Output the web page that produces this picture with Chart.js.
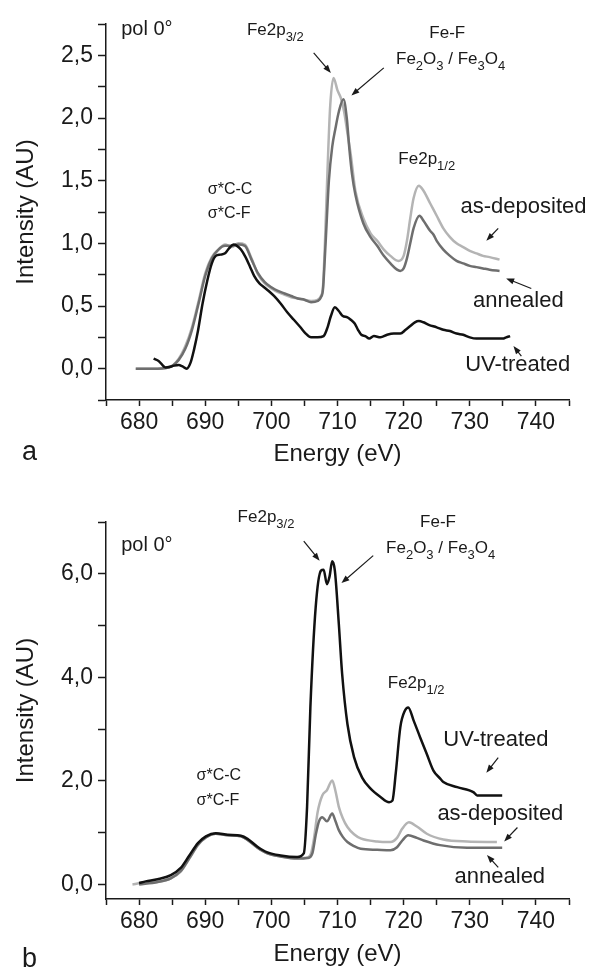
<!DOCTYPE html>
<html>
<head>
<meta charset="utf-8">
<script src="https://cdn.jsdelivr.net/npm/chart.js@4"></script>
<style>
body{margin:0;background:#fff;width:593px;height:973px;position:relative;overflow:hidden}
.panel{position:absolute;left:0;width:593px}
</style>
</head>
<body>
<div class="panel" style="top:0;height:486px"><canvas id="chartA" width="593" height="486"></canvas></div>
<div class="panel" style="top:486px;height:487px"><canvas id="chartB" width="593" height="487"></canvas></div>
<script>
// panel a - pol 0 spectra (energy in eV, intensity in AU)
let energyA_dep = [679.5, 682, 684.5, 686, 687, 688, 689, 690, 691, 692, 693, 694, 695, 696, 697, 698, 699, 700, 701, 702, 703, 704, 705, 706, 707, 707.5, 707.8, 708.1, 708.5, 708.9, 709.4, 710, 710.5, 711, 711.5, 712, 712.7, 713.9, 715, 716, 717, 718, 719.2, 720, 720.5, 721, 721.5, 722.3, 723, 724, 725, 726, 727, 728, 729, 730, 731, 732, 733, 734.5];
let intensA_dep = [0.0, 0.0, 0.01, 0.08, 0.18, 0.33, 0.54, 0.76, 0.89, 0.95, 0.99, 0.97, 1.0, 0.99, 0.88, 0.75, 0.68, 0.64, 0.61, 0.59, 0.57, 0.56, 0.55, 0.54, 0.55, 0.58, 0.65, 1.0, 1.6, 2.1, 2.32, 2.22, 2.16, 2.05, 1.88, 1.71, 1.42, 1.20, 1.08, 1.02, 0.95, 0.90, 0.86, 0.90, 1.02, 1.20, 1.36, 1.46, 1.42, 1.32, 1.22, 1.12, 1.05, 1.00, 0.97, 0.94, 0.92, 0.90, 0.89, 0.87];

let energyA_ann = [679.5, 682, 684.5, 686, 687, 688, 689, 690, 691, 692, 693, 694, 695, 696, 697, 698, 699, 700, 701, 702, 703, 704, 705, 706, 707, 707.5, 707.8, 708.2, 708.7, 709.2, 709.7, 710.2, 710.9, 711.4, 711.8, 712.2, 712.7, 713.9, 715, 716, 717, 718, 719, 719.5, 720, 720.5, 721, 721.5, 722.4, 723, 724, 724.5, 725, 726, 727, 728, 729, 730, 731, 732, 733, 734.5];
let intensA_ann = [0.0, 0.0, 0.01, 0.07, 0.16, 0.31, 0.52, 0.74, 0.88, 0.95, 0.98, 0.98, 0.99, 0.98, 0.87, 0.76, 0.69, 0.65, 0.62, 0.60, 0.58, 0.56, 0.55, 0.53, 0.54, 0.57, 0.63, 1.0, 1.5, 1.77, 1.92, 2.05, 2.15, 2.0, 1.75, 1.55, 1.39, 1.16, 1.05, 0.98, 0.90, 0.84, 0.79, 0.78, 0.80, 0.88, 1.0, 1.12, 1.22, 1.18, 1.10, 1.07, 1.02, 0.95, 0.90, 0.86, 0.84, 0.82, 0.81, 0.80, 0.79, 0.78];

let energyA_uv = [682.2, 683, 684, 685, 686, 686.5, 687.2, 687.8, 688.3, 688.9, 689.6, 690.3, 691, 691.6, 692.3, 693, 693.6, 694.3, 694.8, 695.4, 696.1, 696.8, 697.4, 698.2, 698.9, 699.6, 700.4, 701.4, 702.4, 703.4, 704.4, 705.2, 706, 707, 707.9, 708.5, 709, 709.6, 710.2, 710.8, 711.5, 712, 712.6, 713.1, 713.6, 714.2, 714.8, 715.5, 716.5, 717.5, 718.5, 719.5, 720.3, 721, 721.7, 722.3, 723, 723.8, 725, 726, 727, 728, 729, 730, 731, 732, 733, 734, 735, 735.5, 736.1];
let intensA_uv = [0.08, 0.06, 0.01, 0.02, 0.03, 0.02, 0.0, 0.05, 0.15, 0.30, 0.52, 0.70, 0.84, 0.90, 0.91, 0.92, 0.96, 0.99, 0.98, 0.95, 0.89, 0.81, 0.74, 0.68, 0.65, 0.62, 0.58, 0.52, 0.45, 0.39, 0.33, 0.28, 0.25, 0.25, 0.26, 0.33, 0.42, 0.49, 0.46, 0.42, 0.41, 0.39, 0.36, 0.31, 0.27, 0.26, 0.24, 0.26, 0.25, 0.27, 0.28, 0.28, 0.31, 0.34, 0.37, 0.38, 0.37, 0.35, 0.33, 0.31, 0.30, 0.28, 0.27, 0.25, 0.24, 0.24, 0.24, 0.24, 0.24, 0.25, 0.26];

// panel b
let energyB_uv = [680, 681, 682.8, 684.8, 686.3, 687.6, 688.9, 690.1, 691.6, 693.4, 695.4, 696.4, 697.9, 699.4, 701.4, 703.9, 704.9, 705.4, 705.9, 706.7, 707.5, 707.9, 708.4, 708.8, 709.2, 709.6, 710.2, 710.7, 711.5, 712.5, 713.7, 715, 716.5, 717.8, 718.3, 718.8, 719.5, 720.2, 720.7, 721.5, 722.5, 723.5, 724.5, 725.5, 726, 728.1, 730.6, 731.1, 733, 734.9];
let intensB_uv = [0.03, 0.06, 0.10, 0.18, 0.32, 0.56, 0.80, 0.93, 0.99, 0.96, 0.94, 0.88, 0.73, 0.62, 0.56, 0.53, 0.60, 1.50, 3.42, 5.35, 6.06, 6.08, 5.80, 5.95, 6.24, 6.06, 5.03, 4.07, 3.10, 2.46, 2.07, 1.85, 1.69, 1.59, 1.62, 2.14, 3.04, 3.36, 3.42, 3.17, 2.84, 2.52, 2.20, 2.05, 1.98, 1.88, 1.78, 1.72, 1.72, 1.72];

let energyB_dep = [679, 680.3, 682.8, 684.8, 686.3, 687.6, 688.9, 690.1, 691.6, 693.4, 695.4, 696.4, 697.9, 699.4, 701.4, 703.9, 705.5, 706, 706.4, 707, 707.7, 708.4, 709.2, 709.7, 710.2, 710.8, 711.5, 712.5, 713.5, 716, 718, 719, 719.8, 720.8, 722, 723.5, 726, 729.6, 734.1];
let intensB_dep = [0.0, 0.03, 0.05, 0.12, 0.25, 0.50, 0.76, 0.91, 0.98, 0.95, 0.93, 0.86, 0.71, 0.60, 0.54, 0.51, 0.52, 0.60, 0.85, 1.40, 1.72, 1.82, 2.01, 1.80, 1.50, 1.28, 1.11, 0.97, 0.89, 0.83, 0.82, 0.90, 1.08, 1.20, 1.12, 0.98, 0.87, 0.83, 0.82];

let energyB_ann = [680, 682.8, 684.8, 686.3, 687.6, 688.9, 690.1, 691.6, 693.4, 695.4, 696.4, 697.9, 699.4, 701.4, 703.9, 705.5, 706.2, 706.7, 707.2, 707.7, 708.4, 709.2, 709.7, 710.2, 710.8, 711.5, 712.5, 713.5, 716, 718, 719, 719.8, 720.7, 722, 723, 725.5, 729.6, 734.9];
let intensB_ann = [0.0, 0.05, 0.12, 0.26, 0.51, 0.77, 0.91, 0.98, 0.95, 0.93, 0.86, 0.71, 0.60, 0.54, 0.50, 0.51, 0.60, 0.95, 1.22, 1.30, 1.22, 1.37, 1.22, 1.05, 0.92, 0.82, 0.74, 0.69, 0.67, 0.66, 0.72, 0.85, 0.95, 0.90, 0.85, 0.76, 0.71, 0.71];

// axis ticks (major ones get a label)
let ticksA_y = [-0.25, 0, 0.25, 0.5, 0.75, 1, 1.25, 1.5, 1.75, 2, 2.25, 2.5, 2.75];
let labelsA_y = [0, 0.5, 1, 1.5, 2, 2.5];
let ticksB_y = [0, 1, 2, 3, 4, 5, 6, 7];
let labelsB_y = [0, 2, 4, 6];
let ticks_x = [675, 680, 685, 690, 695, 700, 705, 710, 715, 720, 725, 730, 735, 740, 745];
let labels_x = [680, 690, 700, 710, 720, 730, 740];

const FONT = '"Liberation Sans", Arial, Helvetica, sans-serif';
const INK = '#1a1a1a';
Chart.defaults.font.family = FONT;
Chart.defaults.color = INK;

let pts = function(xs, ys){
    //zip energy + intensity arrays into chart.js points
    return xs.map((x, i) => ({x: x, y: ys[i]}));
}

let line = function(label, xs, ys, color){
    return {
        label: label,
        data: pts(xs, ys),
        borderColor: color,
        borderWidth: 2.5,
        pointRadius: 0,
        cubicInterpolationMode: 'monotone',
        fill: false
    };
}

let hasVal = (arr, v) => arr.some(a => Math.abs(a - v) < 1e-6);

let drawParts = function(ctx, parts, x, y, size, align){
    //parts = [[text, isSub], ...] drawn left to right, subscripts lowered
    let widths = parts.map(p => {
        ctx.font = `${p[1] ? Math.round(size*0.78) : size}px ${FONT}`;
        return ctx.measureText(p[0]).width;
    });
    let total = widths.reduce((a, b) => a + b, 0);
    let cx = align === 'center' ? x - total/2 : x;
    parts.forEach((p, i) => {
        ctx.font = `${p[1] ? Math.round(size*0.78) : size}px ${FONT}`;
        ctx.fillText(p[0], cx, p[1] ? y + size*0.36 : y);
        cx += widths[i];
    });
}

let drawArrow = function(ctx, x1, y1, x2, y2){
    let a = Math.atan2(y2 - y1, x2 - x1), h = 8, w = 3;
    ctx.beginPath();
    ctx.moveTo(x1, y1);
    ctx.lineTo(x2 - Math.cos(a)*h*0.7, y2 - Math.sin(a)*h*0.7);
    ctx.stroke();
    ctx.beginPath();
    ctx.moveTo(x2, y2);
    ctx.lineTo(x2 - h*Math.cos(a) + w*Math.sin(a), y2 - h*Math.sin(a) - w*Math.cos(a));
    ctx.lineTo(x2 - h*Math.cos(a) - w*Math.sin(a), y2 - h*Math.sin(a) + w*Math.cos(a));
    ctx.closePath();
    ctx.fill();
}

let notesPlugin = function(notes, arrows, tag){
    //labels & arrows placed in data coords (energy, intensity)
    return {
        id: 'notes',
        afterDraw(chart){
            let ctx = chart.ctx, sx = chart.scales.x, sy = chart.scales.y;
            ctx.save();
            ctx.fillStyle = INK;
            ctx.strokeStyle = INK;
            ctx.lineWidth = 1.2;
            ctx.textBaseline = 'alphabetic';
            for(let n of notes){
                drawParts(ctx, n.parts, sx.getPixelForValue(n.x), sy.getPixelForValue(n.y), n.size, n.align || 'left');
            }
            for(let a of arrows){
                drawArrow(ctx, sx.getPixelForValue(a[0]), sy.getPixelForValue(a[1]), sx.getPixelForValue(a[2]), sy.getPixelForValue(a[3]));
            }
            ctx.font = `27px ${FONT}`;
            ctx.fillText(tag.text, 22, tag.y);
            ctx.restore();
        }
    };
}

let makePanel = function(id, datasets, yCfg, padTop, xHeight, xTitlePad, notes, arrows, tag){
    new Chart(id, {
        type: 'line',
        data: {datasets: datasets},
        options: {
            responsive: false,
            animation: false,
            devicePixelRatio: 1,
            layout: {padding: {top: padTop, right: 24, left: 0, bottom: 0}},
            plugins: {legend: {display: false}, tooltip: {enabled: false}},
            scales: {
                x: {
                    type: 'linear', min: 675, max: 745,
                    border: {display: true, color: INK, width: 1.5},
                    grid: {drawOnChartArea: false, tickLength: 6, tickColor: INK, tickWidth: 1.5},
                    afterBuildTicks: s => { s.ticks = ticks_x.map(v => ({value: v})); },
                    ticks: {
                        autoSkip: false, maxRotation: 0, padding: 3,
                        font: {size: 23},
                        callback: v => hasVal(labels_x, v) ? String(v) : ''
                    },
                    title: {display: true, text: 'Energy (eV)', font: {size: 24}, padding: {top: 0, bottom: xTitlePad}},
                    afterFit: s => { s.height = xHeight; }
                },
                y: {
                    type: 'linear', min: yCfg.min, max: yCfg.max,
                    border: {display: true, color: INK, width: 1.5},
                    grid: {drawOnChartArea: false, tickLength: 8, tickWidth: 1.5, tickColor: INK},
                    afterBuildTicks: s => { s.ticks = yCfg.ticks.map(v => ({value: v})); },
                    ticks: {
                        autoSkip: false, padding: 5,
                        font: {size: 23},
                        callback: v => hasVal(yCfg.labels, v) ? v.toFixed(1).replace('.', ',') : ''
                    },
                    title: {display: true, text: 'Intensity (AU)', font: {size: 24}, padding: {top: 12, bottom: 0}},
                    afterFit: s => { s.width = 106; }
                }
            }
        },
        plugins: [notesPlugin(notes, arrows, tag)]
    });
}

// panel a
makePanel('chartA', [
        line('UV-treated', energyA_uv, intensA_uv, '#111111'),
        line('annealed', energyA_ann, intensA_ann, '#6e6e6e'),
        line('as-deposited', energyA_dep, intensA_dep, '#b4b4b4')
    ],
    {min: -0.25, max: 2.75, ticks: ticksA_y, labels: labelsA_y},
    24, 86, 17,
    [
        {x: 677.3, y: 2.66, size: 20, parts: [['pol 0°', 0]]},
        {x: 696.3, y: 2.66, size: 17, parts: [['Fe2p', 0], ['3/2', 1]]},
        {x: 726.6, y: 2.64, size: 17, align: 'center', parts: [['Fe-F', 0]]},
        {x: 727.1, y: 2.43, size: 17, align: 'center', parts: [['Fe', 0], ['2', 1], ['O', 0], ['3', 1], [' / Fe', 0], ['3', 1], ['O', 0], ['4', 1]]},
        {x: 719.2, y: 1.63, size: 17, parts: [['Fe2p', 0], ['1/2', 1]]},
        {x: 690.4, y: 1.39, size: 16, parts: [['σ*C-C', 0]]},
        {x: 690.4, y: 1.20, size: 16, parts: [['σ*C-F', 0]]},
        {x: 728.6, y: 1.24, size: 22, parts: [['as-deposited', 0]]},
        {x: 730.5, y: 0.49, size: 22, parts: [['annealed', 0]]},
        {x: 729.3, y: -0.02, size: 22, parts: [['UV-treated', 0]]}
    ],
    [
        [706.4, 2.52, 709.0, 2.36],
        [717.0, 2.40, 712.1, 2.18],
        [734.3, 1.12, 732.5, 1.02],
        [739.3, 0.64, 735.5, 0.72],
        [737.8, 0.10, 736.6, 0.18]
    ],
    {text: 'a', y: 460}
);

// panel b
makePanel('chartB', [
        line('UV-treated', energyB_uv, intensB_uv, '#111111'),
        line('annealed', energyB_ann, intensB_ann, '#6e6e6e'),
        line('as-deposited', energyB_dep, intensB_dep, '#b4b4b4')
    ],
    {min: -0.28, max: 7, ticks: ticksB_y, labels: labelsB_y},
    36, 74, 4,
    [
        {x: 677.3, y: 6.44, size: 20, parts: [['pol 0°', 0]]},
        {x: 694.9, y: 7.00, size: 17, parts: [['Fe2p', 0], ['3/2', 1]]},
        {x: 725.2, y: 6.90, size: 17, align: 'center', parts: [['Fe-F', 0]]},
        {x: 725.6, y: 6.41, size: 17, align: 'center', parts: [['Fe', 0], ['2', 1], ['O', 0], ['3', 1], [' / Fe', 0], ['3', 1], ['O', 0], ['4', 1]]},
        {x: 717.6, y: 3.80, size: 17, parts: [['Fe2p', 0], ['1/2', 1]]},
        {x: 688.7, y: 2.01, size: 16, parts: [['σ*C-C', 0]]},
        {x: 688.7, y: 1.53, size: 16, parts: [['σ*C-F', 0]]},
        {x: 726.0, y: 2.68, size: 22, parts: [['UV-treated', 0]]},
        {x: 725.1, y: 1.24, size: 22, parts: [['as-deposited', 0]]},
        {x: 727.7, y: 0.03, size: 22, parts: [['annealed', 0]]}
    ],
    [
        [704.9, 6.63, 707.3, 6.25],
        [715.4, 6.35, 710.6, 5.82],
        [734.3, 2.45, 732.5, 2.16],
        [737.2, 1.10, 735.2, 0.83],
        [734.3, 0.33, 732.6, 0.57]
    ],
    {text: 'b', y: 481}
);
</script>
</body>
</html>
